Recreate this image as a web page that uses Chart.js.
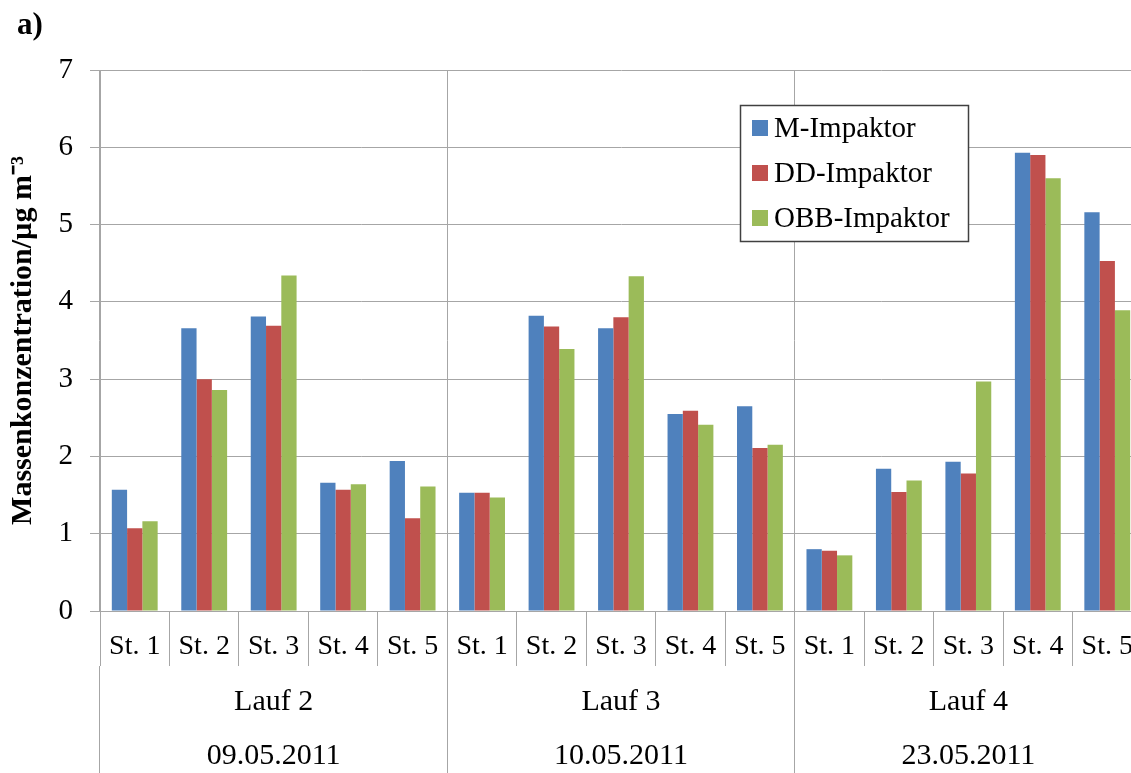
<!DOCTYPE html>
<html>
<head>
<meta charset="utf-8">
<script src="https://cdn.jsdelivr.net/npm/chart.js@4.4.1/dist/chart.umd.min.js"></script>
<style>
  html, body { margin: 0; padding: 0; background: #ffffff; overflow: hidden; }
  #wrap { position: relative; width: 1131px; height: 773px; overflow: hidden; }
  canvas { display: block; }
</style>
</head>
<body>
<div id="wrap"><canvas id="c" width="1142" height="773"></canvas></div>
<script>
const categories = ['St. 1','St. 2','St. 3','St. 4','St. 5',
                    'St. 1','St. 2','St. 3','St. 4','St. 5',
                    'St. 1','St. 2','St. 3','St. 4','St. 5'];
const runLabels = ['Lauf 2', 'Lauf 3', 'Lauf 4'];
const runDates = ['09.05.2011', '10.05.2011', '23.05.2011'];
const seriesNames = ['M-Impaktor', 'DD-Impaktor', 'OBB-Impaktor'];
const mImpaktor   = [1.57, 3.66, 3.81, 1.66, 1.94,  1.53, 3.82, 3.66, 2.55, 2.65,  0.80, 1.84, 1.93, 5.93, 5.16];
const ddImpaktor  = [1.07, 3.00, 3.69, 1.57, 1.20,  1.53, 3.68, 3.80, 2.59, 2.11,  0.78, 1.54, 1.78, 5.90, 4.53];
const obbImpaktor = [1.16, 2.86, 4.34, 1.64, 1.61,  1.47, 3.39, 4.33, 2.41, 2.15,  0.72, 1.69, 2.97, 5.60, 3.89];
const yTicks = [0, 1, 2, 3, 4, 5, 6, 7];
const yTitle = 'Massenkonzentration/µg m⁻³';
const panelLabel = 'a)';

const colors = ['#4F81BD', '#C0504D', '#9BBB59'];
const gridColor = '#a6a6a6';
const serif = "'Liberation Serif', 'Times New Roman', serif";

const groupLabels = runLabels.map((l, i) => [l, runDates[i]]);

const overlay = {
  id: 'overlay',
  afterDraw(chart) {
    const ctx = chart.ctx;
    ctx.save();
    // panel label
    ctx.fillStyle = '#000';
    ctx.font = "bold 31px " + serif;
    ctx.textBaseline = 'alphabetic';
    ctx.textAlign = 'left';
    ctx.fillText(panelLabel, 17, 34);

    // legend box
    const lx = 740, ly = 105, lw = 228, lh = 136;
    ctx.fillStyle = '#ffffff';
    ctx.fillRect(lx, ly, lw, lh);
    ctx.strokeStyle = '#404040';
    ctx.lineWidth = 1.5;
    ctx.strokeRect(lx + 0.5, ly + 0.5, lw, lh);
    ctx.font = "29px " + serif;
    ctx.textBaseline = 'middle';
    chart.data.datasets.forEach((ds, i) => {
      const cy = 128 + i * 45;
      ctx.fillStyle = ds.backgroundColor;
      ctx.fillRect(752, cy - 8, 16, 16);
      ctx.fillStyle = '#000';
      ctx.fillText(ds.label, 774, cy + 1);
    });
    ctx.restore();
  }
};

new Chart(document.getElementById('c'), {
  type: 'bar',
  data: {
    labels: categories,
    datasets: [
      { label: seriesNames[0], data: mImpaktor, backgroundColor: colors[0] },
      { label: seriesNames[1], data: ddImpaktor, backgroundColor: colors[1] },
      { label: seriesNames[2], data: obbImpaktor, backgroundColor: colors[2] }
    ]
  },
  options: {
    responsive: false,
    animation: false,
    devicePixelRatio: 1,
    layout: { padding: { left: 0, right: 0, top: 70, bottom: 0 } },
    datasets: { bar: { categoryPercentage: 0.66, barPercentage: 1.0 } },
    plugins: {
      legend: { display: false },
      tooltip: { enabled: false },
      title: { display: false }
    },
    scales: {
      x: {
        type: 'category',
        position: 'bottom',
        weight: 0,
        offset: true,
        grid: {
          offset: true,
          drawOnChartArea: false,
          drawTicks: true,
          tickLength: 55,
          color: gridColor,
          lineWidth: 1
        },
        border: { display: true, color: gridColor, width: 1 },
        ticks: {
          color: '#000',
          font: { family: serif, size: 28 },
          padding: -36,
          maxRotation: 0,
          minRotation: 0,
          autoSkip: false
        },
        afterFit(scale) { scale.height = 55; }
      },
      x2: {
        type: 'category',
        position: 'bottom',
        weight: 1,
        labels: groupLabels,
        offset: true,
        grid: {
          offset: true,
          drawOnChartArea: true,
          drawTicks: true,
          tickLength: 107,
          color: gridColor,
          lineWidth: 1
        },
        border: { display: false },
        ticks: {
          color: '#000',
          font: { family: serif, size: 30, lineHeight: 1.8 },
          padding: -98,
          maxRotation: 0,
          minRotation: 0,
          autoSkip: false
        },
        afterFit(scale) { scale.height = 107; }
      },
      y: {
        min: 0,
        max: 7,
        afterBuildTicks(scale) { scale.ticks = yTicks.map(v => ({ value: v })); },
        grid: {
          color: gridColor,
          lineWidth: 1,
          drawTicks: true,
          tickLength: 10
        },
        border: { display: true, color: gridColor, width: 1 },
        ticks: {
          color: '#000',
          font: { family: serif, size: 29 },
          padding: 17
        },
        title: {
          display: true,
          text: yTitle,
          color: '#000',
          font: { family: serif, size: 30, weight: 'bold' },
          padding: { top: 5, bottom: 0 }
        },
        afterFit(scale) { scale.width = 100; }
      }
    }
  },
  plugins: [overlay]
});
</script>
</body>
</html>
